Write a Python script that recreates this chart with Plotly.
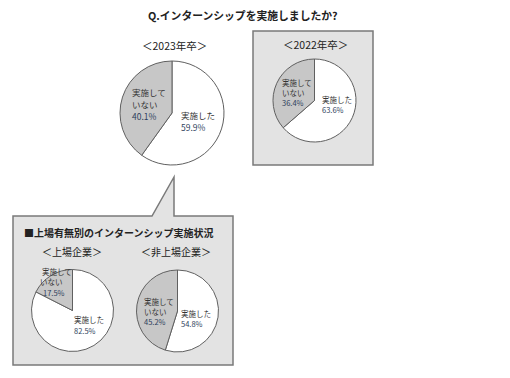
import plotly.graph_objects as go

W, H = 510, 378

title = "Q.インターンシップを実施しましたか?"
callout_title = "■上場有無別のインターンシップ実施状況"
categories = ["実施した", "実施していない"]
done_lines = ["実施した"]
not_lines = ["実施して", "いない"]
groups = ["＜2023年卒＞", "＜2022年卒＞", "＜上場企業＞", "＜非上場企業＞"]
done = [59.9, 63.6, 82.5, 54.8]
not_done = [40.1, 36.4, 17.5, 45.2]

FONT = "Noto Sans CJK JP"
GRAY = "#c7c7c7"
EDGE = "#606060"
TXT = "#333333"
PCT = "#2f3f5c"


def px(x):
    return x / W


def py(y):
    return 1 - y / H


# pie geometry in pixels: (cx, cy, r)
pies = [(172, 113, 52), (314.5, 100.5, 41.5), (72.5, 310.5, 41), (177.5, 311, 41)]

fig = go.Figure()
for i, (cx, cy, r) in enumerate(pies):
    fig.add_trace(go.Pie(
        labels=categories,
        values=[done[i], not_done[i]],
        sort=False,
        direction="clockwise",
        rotation=0,
        marker=dict(colors=["#ffffff", GRAY], line=dict(color=EDGE, width=1)),
        textinfo="none",
        hoverinfo="label+percent",
        showlegend=False,
        domain=dict(x=[px(cx - r), px(cx + r)], y=[py(cy + r), py(cy - r)]),
    ))

shapes = [
    dict(type="rect", xref="paper", yref="paper",
         x0=px(253), x1=px(373), y0=py(165), y1=py(31),
         fillcolor="#e3e3e3", line=dict(color="#7a7a7a", width=1.5), layer="below"),
    dict(type="path", xref="paper", yref="paper",
         path=(f"M {px(13)} {py(216)} L {px(152)} {py(216)} L {px(174)} {py(177)} "
               f"L {px(174)} {py(216)} L {px(233)} {py(216)} L {px(233)} {py(365)} "
               f"L {px(13)} {py(365)} Z"),
         fillcolor="#e3e3e3", line=dict(color="#7a7a7a", width=1.5), layer="below"),
]

ann = []


def add_text(x, y, text, size=11, bold=False, color=TXT, xanchor="center"):
    t = f"<b>{text}</b>" if bold else text
    ann.append(dict(x=px(x), y=py(y), xref="paper", yref="paper", text=t,
                    showarrow=False, xanchor=xanchor, yanchor="middle",
                    borderpad=0,
                    font=dict(family=FONT, size=size, color=color)))


add_text(243, 15, title, size=10.8, bold=True, color="#222222")
add_text(119, 232, callout_title, size=10, bold=True, color="#222222")
group_pos = [(174, 45, 10.5), (315, 44, 10.5), (72, 251, 10), (176, 251, 10)]
for (gx, gy, gs), g in zip(group_pos, groups):
    add_text(gx, gy, g, size=gs, color="#222222")

# per-line label positions: (x, y) for each line, font size
not_pos = [([(131, 92), (131, 104), (131, 116)], 8.5),
           ([(281, 82.5), (281, 92.5), (281, 102.5)], 7.5),
           ([(41, 271), (39, 281.5), (42, 292)], 7.5),
           ([(143, 301.5), (143, 311.5), (143, 321.5)], 7.5)]
done_pos = [([(180, 115), (180, 127)], 8.5),
            ([(321, 99.5), (321, 110)], 7.5),
            ([(73, 319.5), (73, 330)], 7.5),
            ([(180, 313), (180, 323.5)], 7.5)]
for i in range(4):
    pts, s = not_pos[i]
    texts = not_lines + [f"{not_done[i]:.1f}%"]
    for j, ((x, y), t) in enumerate(zip(pts, texts)):
        add_text(x, y, t, size=s, xanchor="left", color=PCT if j == 2 else TXT)
    pts, s = done_pos[i]
    texts = done_lines + [f"{done[i]:.1f}%"]
    for j, ((x, y), t) in enumerate(zip(pts, texts)):
        add_text(x, y, t, size=s, xanchor="left", color=PCT if j == 1 else TXT)

fig.update_layout(
    width=W, height=H,
    margin=dict(l=0, r=0, t=0, b=0),
    paper_bgcolor="white", plot_bgcolor="white",
    shapes=shapes, annotations=ann,
    font=dict(family=FONT),
)

fig.write_html("out.html")
